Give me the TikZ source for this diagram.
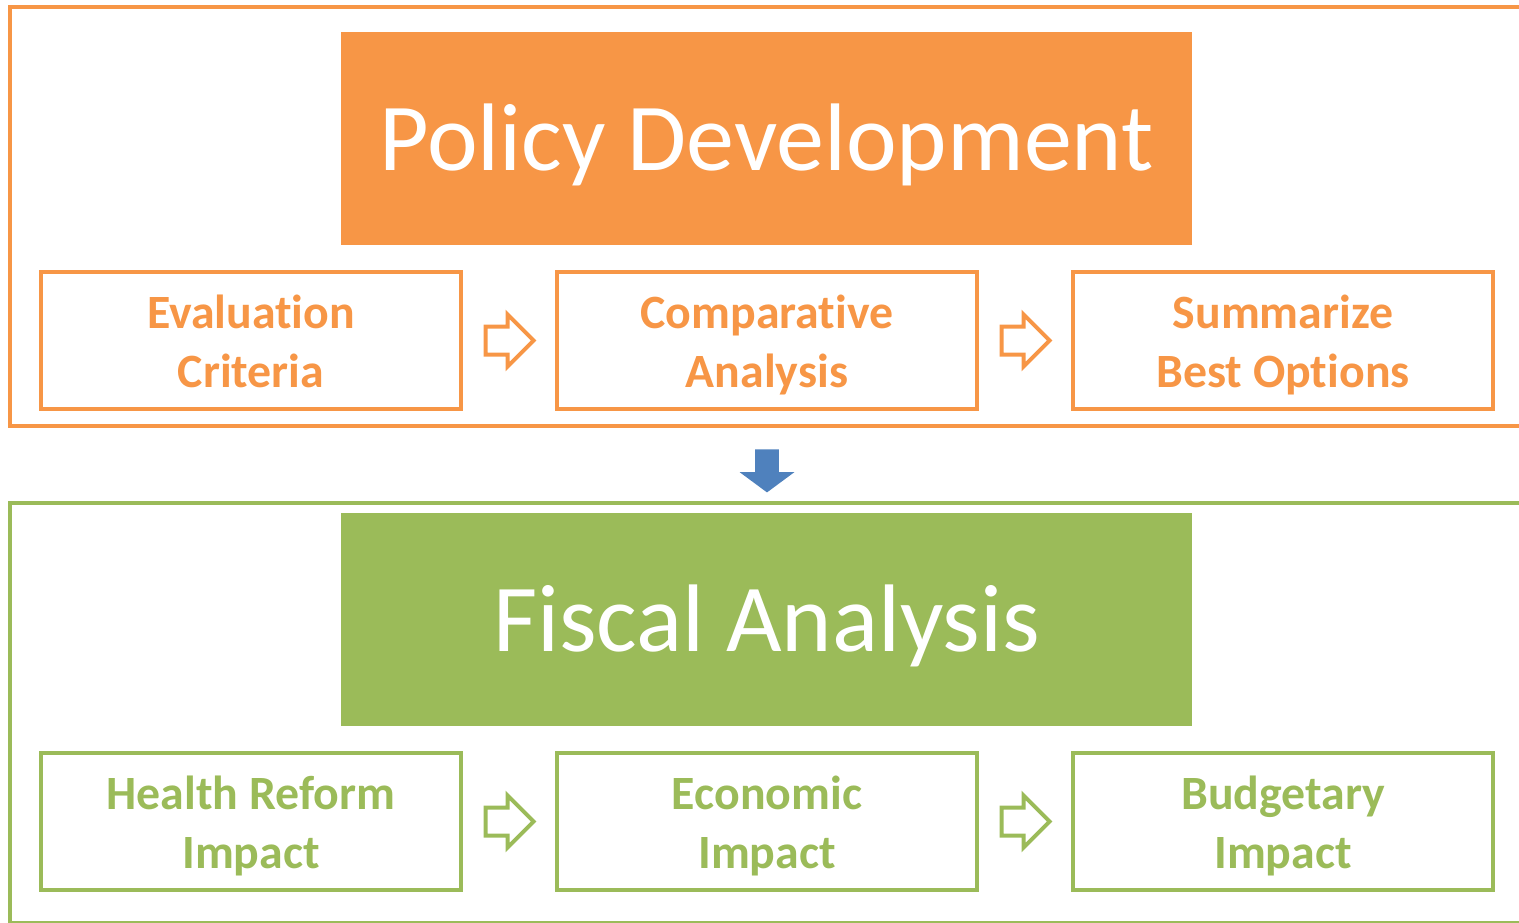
\documentclass[tikz,border=0pt]{standalone}
\usepackage{fontspec}
\setmainfont[RawFeature={-liga;-clig;-calt;-dlig}]{Carlito}
\usetikzlibrary{shapes.arrows,calc}

\definecolor{pdorange}{HTML}{F79646}
\definecolor{fagreen}{HTML}{9BBB59}
\definecolor{flowblue}{HTML}{4F81BD}

\begin{document}
\begin{tikzpicture}[x=0.5pt,y=-0.5pt,
    frame/.style={draw=#1, line width=2pt},
    header/.style={fill=#1, text=white, minimum width=425.5pt, minimum height=106.5pt,
      inner sep=0pt, text height=36pt, text depth=4.5pt, font=\fontsize{48}{52}\selectfont},
    stepbox/.style={draw=#1, line width=2pt, text=#1, minimum width=210pt, minimum height=68.5pt,
      inner sep=0pt, align=center, text height=47pt, text depth=0.5pt,
      font=\fontsize{23.9}{29.3}\selectfont\bfseries},
    hollow/.style={single arrow, draw=#1, line width=2pt, minimum height=24pt, minimum width=0pt,
      inner xsep=0pt, inner ysep=6pt, single arrow head extend=6pt, xshift=-3.2pt}]
  \useasboundingbox (0,0) rectangle (1519,922);
  \clip (0,0) rectangle (1519,922);

  % policy development
  \draw [frame=pdorange] (10,7) rectangle (1540,426);
  \node [header=pdorange] (pdhead) at (766.5,138.5) {Policy Development};
  \node [stepbox=pdorange] (eval) at (251,340.5) {Evaluation\\Criteria};
  \node [stepbox=pdorange] (comp) at (767,340.5) {Comparative\\Analysis};
  \node [stepbox=pdorange] (best) at (1283,340.5) {Summarize\\Best Options};
  \node [hollow=pdorange] (a1) at ($(eval.east)!0.5!(comp.west)$) {};
  \node [hollow=pdorange] (a2) at ($(comp.east)!0.5!(best.west)$) {};

  % down to fiscal analysis
  \node [single arrow, fill=flowblue, shape border rotate=270, minimum height=21.5pt,
    minimum width=0pt, inner sep=5.75pt, single arrow head extend=7.75pt,
    single arrow tip angle=107] (down) at (767,466.5) {};

  % fiscal analysis
  \draw [frame=fagreen] (10,503) rectangle (1540,923);
  \node [header=fagreen] (fahead) at (766.5,619.5) {Fiscal Analysis};
  \node [stepbox=fagreen] (health) at (251,821.5) {Health Reform\\Impact};
  \node [stepbox=fagreen] (econ) at (767,821.5) {Economic\\Impact};
  \node [stepbox=fagreen] (budget) at (1283,821.5) {Budgetary\\Impact};
  \node [hollow=fagreen] (a3) at ($(health.east)!0.5!(econ.west)$) {};
  \node [hollow=fagreen] (a4) at ($(econ.east)!0.5!(budget.west)$) {};
\end{tikzpicture}
\end{document}
